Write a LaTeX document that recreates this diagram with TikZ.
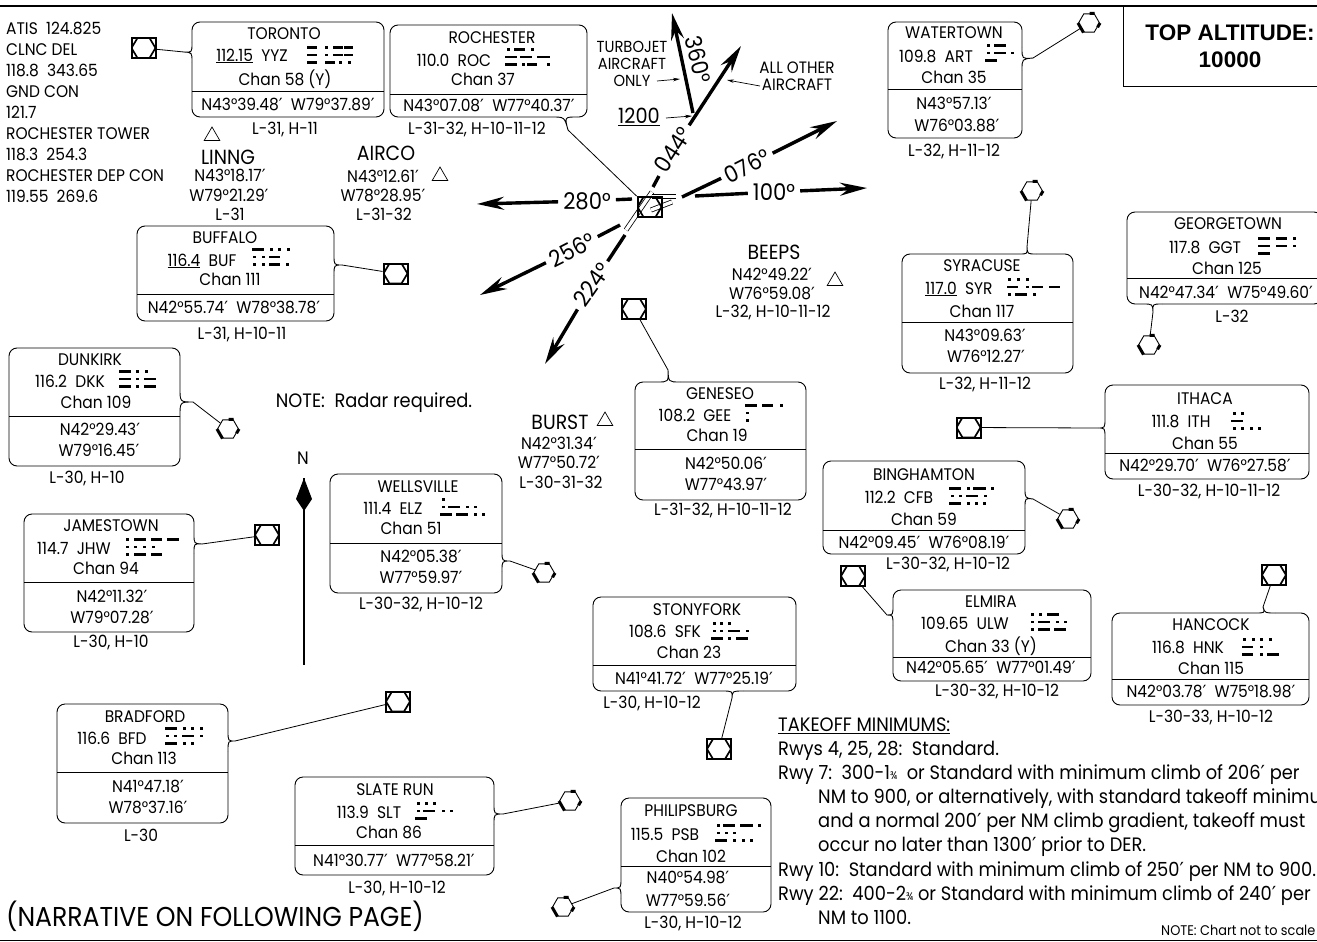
\documentclass[tikz,border=0pt]{standalone}
\usepackage{fontspec}
\setmainfont[FakeStretch=0.92,Numbers=Monospaced]{Poppins}
\newfontfamily\altfont{Liberation Sans}
\newfontfamily\primefont{DejaVu Sans}
\catcode`′=\active
\def′{{\primefont\char"2032 }}
\usetikzlibrary{arrows.meta,calc,shapes.geometric}
\tikzset{
  lbl/.style={inner sep=0pt,font=\fontsize{16.8}{18}\selectfont,align=center},
  biglbl/.style={inner sep=0pt,font=\fontsize{19.4}{24.1}\selectfont,align=left},
  fixlbl/.style={lbl,font=\fontsize{20.5}{20}\selectfont},
  navfr/.style={draw,line width=.9pt,rounded corners=8pt,inner sep=0pt,outer sep=0pt},
  navln/.style={line width=.9pt},
  leader/.style={line width=.8pt},
  morsebar/.style={line width=2.5pt},
  crs/.style={line width=3.4pt},
  crsarrow/.style={crs,-{Stealth[length=27pt,width=13pt,inset=9pt]}},
  crslbl/.style={inner sep=5pt,font=\fontsize{23}{24}\selectfont},
  thinarrow/.style={line width=.7pt,-{Stealth[length=7pt,width=3.5pt]}},
  rwystrip/.style={double=white,double distance=3.4pt,line width=.8pt},
  fixsym/.style={draw,line width=.7pt,regular polygon,regular polygon sides=3,minimum size=18pt,inner sep=0pt},
  vorsym/.style={draw,line width=.9pt,fill=white,regular polygon,regular polygon sides=6,minimum size=21pt,inner sep=0pt},
  dmesym/.style={draw,line width=2pt,minimum width=24pt,minimum height=20pt,inner sep=0pt,
    path picture={\draw[line width=1.7pt] (path picture bounding box.west)
      -- ([xshift=6pt]path picture bounding box.north west) -- ([xshift=-6pt]path picture bounding box.north east)
      -- (path picture bounding box.east) -- ([xshift=-6pt]path picture bounding box.south east)
      -- ([xshift=6pt]path picture bounding box.south west) -- cycle;}},
}
\newcommand{\navbox}[6]{
  \node[navfr,minimum width={#4-#2},minimum height={#5-#3}] (#1) at ({(#2+#4)/2},{(#3+#5)/2}) {};
  \draw[navln] (#1.west |- 0,#6) -- (#1.east |- 0,#6);
}
\newcommand{\navtab}[4]{
  \coordinate (#1tab) at (#2);
  \draw[white,line width=2pt] (#3) -- (#4);
  \draw[navln] (#3) .. controls ($(#3)!.5!(#4)$) .. (#1tab) .. controls ($(#3)!.5!(#4)$) .. (#4);
}
\newcommand{\morse}[3]{\foreach \mx/\mr/\ml in {#3} \draw[morsebar] ({#1+\mx},{#2+\mr*7.5}) -- ++(\ml,0);}
\newcommand{\vormark}[3]{
  \node[vorsym] (#1) at (#2,#3) {};
  \draw[line width=3pt] (#1.corner 3) -- (#1.corner 4);
  \draw[line width=3pt] (#1.corner 1) -- ($(#1.corner 1)!.45!(#1.corner 2)$);
  \draw[line width=3pt] (#1.corner 6) -- ($(#1.corner 6)!.45!(#1.corner 5)$);
}
\begin{document}
\begin{tikzpicture}[x=1pt,y=-1pt]
  \useasboundingbox (0,0) rectangle (1317,942);
  \draw[line width=2pt] (0,6) -- (1317,6);
  \draw[line width=1pt] (0,940) -- (1317,940);
  \draw[line width=.8pt] (1123,6) |- (1317,86);
  \node[inner sep=0pt,align=center,font=\altfont\bfseries\fontsize{22.5}{27}\selectfont] (topalt) at (1230,46) {TOP ALTITUDE:\\10000};

  \node[lbl,anchor=north west,align=left,font=\fontsize{16.8}{21}\selectfont] (freqs) at (6,22) {ATIS\ \ 124.825\\CLNC DEL\\118.8\ \ 343.65\\GND CON\\121.7\\ROCHESTER TOWER\\118.3\ \ 254.3\\ROCHESTER DEP CON\\119.55\ \ 269.6};

  % toronto
  \navbox{tor}{192}{22}{384}{117}{91}
  \navtab{tor}{184,52}{192,43}{192,62}
  \node[dmesym] (torsym) at (143.5,48) {};
  \draw[leader] (torsym) -- (tortab);
  \node[lbl] (tora) at (284,34) {TORONTO};
  \node[lbl] (torb) at (252,56) {\underline{112.15}\ \ YYZ};
  \morse{307}{55}{0/-1/10,18/-1/3,26/-1/10,37/-1/9,0/0/10,18/0/3,26/0/10,37/0/9,0/1/10,18/1/10,32/1/3,41/1/3}
  \node[lbl] (torc) at (285,79) {Chan 58 (Y)};
  \node[lbl] (tord) at (288,104) {N43°39.48′\ \ W79°37.89′};
  \node[lbl] (tore) at (285,130) {L-31, H-11};

  % rochester
  \navbox{roc}{390}{25}{587}{117}{94}
  \navtab{roc}{568,130}{552,117}{577,117}
  \node[lbl] (roca) at (492,38) {ROCHESTER};
  \node[lbl] (rocb) at (454,60) {110.0\ \ ROC};
  \morse{505}{57}{2/-1/3,9/-1/11,26/-1/3,0/0/12,15/0/12,32/0/13,0/1/12,17/1/3,22/1/10,42/1/3}
  \node[lbl] (rocc) at (483,79) {Chan 37};
  \node[lbl] (rocd) at (489,105) {N43°07.08′\ \ W77°40.37′};
  \node[lbl] (roce) at (477,130) {L-31-32, H-10-11-12};

  % watertown
  \navbox{art}{888}{22}{1022}{138}{89}
  \navtab{art}{1033,58}{1022,48}{1022,70}
  \vormark{artsym}{1089}{23}
  \draw[leader] (artsym) -- (arttab);
  \node[lbl] (arta) at (954,33) {WATERTOWN};
  \node[lbl] (artb) at (936,56) {109.8\ \ ART};
  \morse{985}{53}{2/-1/3,9/-1/12,2/0/3,9/0/12,26/0/3,0/1/12}
  \node[lbl] (artc) at (954,77) {Chan 35};
  \node[lbl] (artd) at (954,103) {N43°57.13′};
  \node[lbl] (arte) at (957,125) {W76°03.88′};
  \node[lbl] (artf) at (954,152) {L-32, H-11-12};

  % fixes
  \node[fixsym] (linsym) at (212,136) {};
  \node[fixlbl] (lina) at (228,157) {LINNG};
  \node[lbl] (linb) at (230,175) {N43°18.17′};
  \node[lbl] (linc) at (229,195) {W79°21.29′};
  \node[lbl] (lind) at (230,214) {L-31};
  \node[fixsym] (airsym) at (440,176) {};
  \node[fixlbl] (aira) at (386,153) {AIRCO};
  \node[lbl] (airb) at (383,176) {N43°12.61′};
  \node[lbl] (airc) at (383,195) {W78°28.95′};
  \node[lbl] (aird) at (384,214) {L-31-32};
  \node[fixsym] (beesym) at (835,281) {};
  \node[fixlbl] (beea) at (774,252) {BEEPS};
  \node[lbl] (beeb) at (772,274) {N42°49.22′};
  \node[lbl] (beec) at (772,293) {W76°59.08′};
  \node[lbl] (beed) at (773,313) {L-32, H-10-11-12};
  \node[fixsym] (bursym) at (605,421) {};
  \node[fixlbl] (bura) at (560,422) {BURST};
  \node[lbl] (burb) at (559,443) {N42°31.34′};
  \node[lbl] (burc) at (559,462) {W77°50.72′};
  \node[lbl] (burd) at (561,482) {L-30-31-32};

  % buffalo
  \navbox{buf}{137}{226}{334}{321}{294}
  \navtab{buf}{342,265}{334,255}{334,275}
  \node[dmesym] (bufsym) at (395.5,273.5) {};
  \draw[leader] (bufsym) -- (buftab);
  \node[lbl] (bufa) at (225,238) {BUFFALO};
  \node[lbl] (bufb) at (202,261) {\underline{116.4}\ \ BUF};
  \morse{252}{257}{0/-1/12,18/-1/3,26/-1/3,35/-1/3,1/0/3,10/0/3,17/0/11,1/1/3,10/1/3,17/1/11,34/1/3}
  \node[lbl] (bufc) at (230,279) {Chan 111};
  \node[lbl] (bufd) at (234,307) {N42°55.74′\ \ W78°38.78′};
  \node[lbl] (bufe) at (242,335) {L-31, H-10-11};

  % dunkirk
  \navbox{dkk}{9}{348}{180}{466}{416}
  \navtab{dkk}{193,402}{180,388}{180,416}
  \vormark{dkksym}{228}{429}
  \draw[leader] (dkksym) -- (dkktab);
  \node[lbl] (dkka) at (90,360) {DUNKIRK};
  \node[lbl] (dkkb) at (70,381) {116.2\ \ DKK};
  \morse{119}{379}{0/-1/12,17/-1/3,26/-1/3,0/0/12,17/0/3,25/0/12,0/1/12,17/1/3,25/1/12}
  \node[lbl] (dkkc) at (96,402) {Chan 109};
  \node[lbl] (dkkd) at (100,429) {N42°29.43′};
  \node[lbl] (dkke) at (99,450) {W79°16.45′};
  \node[lbl] (dkkf) at (87,479) {L-30, H-10};

  \node[biglbl] (radar) at (374,403) {NOTE:\ \ Radar required.};

  % north arrow
  \node[lbl,font=\fontsize{18}{18}\selectfont] (north) at (303,458) {N};
  \coordinate (ntop) at (304,478);
  \coordinate (nbot) at (304,665);
  \draw[line width=2pt] (ntop) -- (nbot);
  \fill (ntop) -- (312,499) -- (304,511) -- (296,499) -- cycle;

  % jamestown
  \navbox{jhw}{24}{514}{194}{632}{582}
  \navtab{jhw}{202,544}{194,534}{194,553}
  \node[dmesym] (jhwsym) at (267,535) {};
  \draw[leader] (jhwsym) -- (jhwtab);
  \node[lbl] (jhwa) at (111,526) {JAMESTOWN};
  \node[lbl] (jhwb) at (74,548) {114.7\ \ JHW};
  \morse{126}{547}{0/-1/3,8/-1/12,25/-1/11,41/-1/12,0/0/3,8/0/3,17/0/3,26/0/3,0/1/3,8/1/12,25/1/11}
  \node[lbl] (jhwc) at (106,568) {Chan 94};
  \node[lbl] (jhwd) at (112,596) {N42°11.32′};
  \node[lbl] (jhwe) at (112,617) {W79°07.28′};
  \node[lbl] (jhwf) at (111,643) {L-30, H-10};

  % wellsville
  \navbox{elz}{330}{474}{502}{593}{543}
  \navtab{elz}{510,561}{502,551}{502,571}
  \vormark{elzsym}{544}{573}
  \draw[leader] (elzsym) -- (elztab);
  \node[lbl] (elza) at (418,487) {WELLSVILLE};
  \node[lbl] (elzb) at (393,508) {111.4\ \ ELZ};
  \morse{440}{507}{2/-1/3,2/0/3,8/0/12,26/0/3,34/0/3,0/1/12,16/1/12,34/1/3,42/1/3}
  \node[lbl] (elzc) at (411,528) {Chan 51};
  \node[lbl] (elzd) at (421,556) {N42°05.38′};
  \node[lbl] (elze) at (421,577) {W77°59.97′};
  \node[lbl] (elzf) at (421,605) {L-30-32, H-10-12};

  % bradford
  \navbox{bfd}{57}{704}{228}{823}{772}
  \navtab{bfd}{235,741}{228,731}{228,751}
  \node[dmesym] (bfdsym) at (398,701.5) {};
  \draw[leader] (bfdsym) -- (bfdtab);
  \node[lbl] (bfda) at (145,717) {BRADFORD};
  \node[lbl] (bfdb) at (112,738) {116.6\ \ BFD};
  \morse{165}{736}{0/-1/12,18/-1/3,26/-1/3,35/-1/3,1/0/3,9/0/3,17/0/12,35/0/3,0/1/12,18/1/3,26/1/3}
  \node[lbl] (bfdc) at (144,758) {Chan 113};
  \node[lbl] (bfdd) at (148,786) {N41°47.18′};
  \node[lbl] (bfde) at (148,807) {W78°37.16′};
  \node[lbl] (bfdf) at (141,835) {L-30};

  % slate run
  \navbox{slt}{295}{777}{494}{875}{845}
  \navtab{slt}{503,814}{494,804}{494,824}
  \vormark{sltsym}{570}{801}
  \draw[leader] (sltsym) -- (slttab);
  \node[lbl] (slta) at (395,790) {SLATE RUN};
  \node[lbl] (sltb) at (369,812) {113.9\ \ SLT};
  \morse{415}{811}{2/-1/3,10/-1/3,18/-1/3,2/0/3,8/0/12,27/0/3,35/0/3,0/1/12}
  \node[lbl] (sltc) at (389,832) {Chan 86};
  \node[lbl] (sltd) at (394,860) {N41°30.77′\ \ W77°58.21′};
  \node[lbl] (slte) at (397,888) {L-30, H-10-12};

  \node[lbl,font=\fontsize{27.3}{28}\selectfont] (narr) at (215,916) {(NARRATIVE ON FOLLOWING PAGE)};

  % geneseo
  \navbox{gee}{635}{382}{806}{500}{449}
  \navtab{gee}{668,370}{657,382}{680,382}
  \node[dmesym] (geesym) at (634,309) {};
  \draw[leader] (geesym) -- (geetab);
  \node[lbl] (geea) at (720,394) {GENESEO};
  \node[lbl] (geeb) at (695,415) {108.2\ \ GEE};
  \morse{745}{413}{0/-1/12,17/-1/11,35/-1/3,1/0/3,1/1/3}
  \node[lbl] (geec) at (717,435) {Chan 19};
  \node[lbl] (geed) at (726,463) {N42°50.06′};
  \node[lbl] (geee) at (726,484) {W77°43.97′};
  \node[lbl] (geef) at (723,511) {L-31-32, H-10-11-12};

  % stonyfork
  \navbox{sfk}{593}{597}{796}{691}{665}
  \navtab{sfk}{732,698}{722,691}{743,691}
  \node[dmesym] (sfksym) at (719,749) {};
  \draw[leader] (sfksym) -- (sfktab);
  \node[lbl] (sfka) at (697,610) {STONYFORK};
  \node[lbl] (sfkb) at (665,631) {108.6\ \ SFK};
  \morse{711}{631}{2/-1/3,9/-1/3,17/-1/3,2/0/3,9/0/3,17/0/12,35/0/3,0/1/12,17/1/3,25/1/12}
  \node[lbl] (sfkc) at (689,652) {Chan 23};
  \node[lbl] (sfkd) at (694,678) {N41°41.72′\ \ W77°25.19′};
  \node[lbl] (sfke) at (652,704) {L-30, H-10-12};

  % philipsburg
  \navbox{psb}{621}{798}{771}{912}{866}
  \navtab{psb}{614,888}{621,878}{621,898}
  \vormark{psbsym}{563}{907}
  \draw[leader] (psbsym) -- (psbtab);
  \node[lbl] (psba) at (691,811) {PHILIPSBURG};
  \node[lbl] (psbb) at (665,834) {115.5\ \ PSB};
  \morse{715}{833}{2/-1/3,8/-1/12,25/-1/13,43/-1/3,2/0/3,10/0/3,18/0/3,0/1/12,18/1/3,27/1/3,35/1/3}
  \node[lbl] (psbc) at (691,856) {Chan 102};
  \node[lbl] (psbd) at (688,877) {N40°54.98′};
  \node[lbl] (psbe) at (688,900) {W77°59.56′};
  \node[lbl] (psbf) at (693,923) {L-30, H-10-12};

  % syracuse
  \navbox{syr}{902}{254}{1073}{373}{322}
  \navtab{syr}{1027,247}{1019,254}{1036,254}
  \vormark{syrsym}{1032}{191}
  \draw[leader] (syrsym) -- (syrtab);
  \node[lbl] (syra) at (982,266) {SYRACUSE};
  \node[lbl] (syrb) at (959,289) {\underline{117.0}\ \ SYR};
  \morse{1007}{287}{1/-1/3,10/-1/3,19/-1/3,0/0/11,19/0/3,25/0/11,42/0/11,1/1/3,8/1/12,26/1/3}
  \node[lbl] (syrc) at (982,311) {Chan 117};
  \node[lbl] (syrd) at (985,335) {N43°09.63′};
  \node[lbl] (syre) at (986,356) {W76°12.27′};
  \node[lbl] (syrf) at (985,385) {L-32, H-11-12};

  % georgetown
  \navbox{ggt}{1127}{212}{1322}{304}{278}
  \navtab{ggt}{1153,312}{1143,304}{1162,304}
  \vormark{ggtsym}{1149}{345}
  \draw[leader] (ggtsym) -- (ggttab);
  \node[lbl] (ggta) at (1228,224) {GEORGETOWN};
  \node[lbl] (ggtb) at (1205,247) {117.8\ \ GGT};
  \morse{1258}{246}{0/-1/12,18/-1/11,35/-1/3,0/0/12,18/0/11,35/0/3,0/1/12}
  \node[lbl] (ggtc) at (1227,268) {Chan 125};
  \node[lbl] (ggtd) at (1226,292) {N42°47.34′\ \ W75°49.60′};
  \node[lbl] (ggte) at (1232,316) {L-32};

  % ithaca
  \navbox{ith}{1105}{385}{1309}{479}{453}
  \navtab{ith}{1098,428}{1105,418}{1105,438}
  \node[dmesym] (ithsym) at (968.5,427.5) {};
  \draw[leader] (ithsym) -- (ithtab);
  \node[lbl] (itha) at (1205,399) {ITHACA};
  \node[lbl] (ithb) at (1181,421) {111.8\ \ ITH};
  \morse{1231}{421}{2/-1/3,10/-1/3,0/0/12,2/1/3,10/1/3,19/1/3,27/1/3}
  \node[lbl] (ithc) at (1205,443) {Chan 55};
  \node[lbl] (ithd) at (1205,465) {N42°29.70′\ \ W76°27.58′};
  \node[lbl] (ithe) at (1209,492) {L-30-32, H-10-11-12};

  % binghamton
  \navbox{cfb}{823}{461}{1025}{554}{530}
  \navtab{cfb}{1033,499}{1025,488}{1025,508}
  \vormark{cfbsym}{1068}{519}
  \draw[leader] (cfbsym) -- (cfbtab);
  \node[lbl] (cfba) at (924,475) {BINGHAMTON};
  \node[lbl] (cfbb) at (899,497) {112.2\ \ CFB};
  \morse{949}{496}{0/-1/12,18/-1/3,24/-1/13,42/-1/3,2/0/3,10/0/3,17/0/12,35/0/3,0/1/12,18/1/3,26/1/3,34/1/3}
  \node[lbl] (cfbc) at (924,519) {Chan 59};
  \node[lbl] (cfbd) at (924,542) {N42°09.45′\ \ W76°08.19′};
  \node[lbl] (cfbe) at (948,565) {L-30-32, H-10-12};

  % elmira
  \navbox{ulw}{893}{590}{1091}{681}{657}
  \navtab{ulw}{887,615}{893,605}{893,625}
  \node[dmesym] (ulwsym) at (853,576) {};
  \draw[leader] (ulwsym) -- (ulwtab);
  \node[lbl] (ulwa) at (991,602) {ELMIRA};
  \node[lbl] (ulwb) at (965,623) {109.65\ \ ULW};
  \morse{1030}{622}{1/-1/3,9/-1/3,17/-1/12,1/0/3,8/0/12,26/0/3,34/0/3,1/1/3,8/1/12,24/1/12}
  \node[lbl] (ulwc) at (991,646) {Chan 33 (Y)};
  \node[lbl] (ulwd) at (991,667) {N42°05.65′\ \ W77°01.49′};
  \node[lbl] (ulwe) at (997,692) {L-30-32, H-10-12};

  % hancock
  \navbox{hnk}{1112}{613}{1309}{705}{679}
  \navtab{hnk}{1263,607}{1255,613}{1275,613}
  \node[dmesym] (hnksym) at (1274,575) {};
  \draw[leader] (hnksym) -- (hnktab);
  \node[lbl] (hnka) at (1211,625) {HANCOCK};
  \node[lbl] (hnkb) at (1188,647) {116.8\ \ HNK};
  \morse{1242}{647}{1/-1/3,10/-1/3,18/-1/3,27/-1/3,0/0/11,18/0/3,0/1/11,18/1/3,25/1/12}
  \node[lbl] (hnkc) at (1211,668) {Chan 115};
  \node[lbl] (hnkd) at (1211,691) {N42°03.78′\ \ W75°18.98′};
  \node[lbl] (hnke) at (1211,718) {L-30-33, H-10-12};

  % airport
  \draw[rwystrip] (626,230) -- (652,192);
  \draw[rwystrip] (652,196.5) -- (676,196.5);
  \draw[rwystrip] (651,210) -- (672,202);
  \node[dmesym] (apt) at (649.5,207) {};
  \draw[leader] (roctab) -- (apt.north west);

  % courses
  \node[crslbl] (lbl280) at (587,201) {280°};
  \node[crslbl] (lbl100) at (774,192) {100°};
  \node[crslbl,rotate=27] (lbl076) at (747,166) {076°};
  \node[crslbl,rotate=57] (lbl044) at (673,150) {044°};
  \node[crslbl,rotate=-76] (lbl360) at (698,60) {360°};
  \node[crslbl,rotate=27] (lbl256) at (572,250) {256°};
  \node[crslbl,rotate=55] (lbl224) at (592,285) {224°};
  \coordinate (tip280) at (477,204);
  \coordinate (tip100) at (867,188);
  \coordinate (tip076) at (837,121);
  \coordinate (tip044) at (741,46);
  \coordinate (tip360) at (672,13);
  \coordinate (tip256) at (480,295);
  \coordinate (tip224) at (545,364);
  \coordinate (bend) at (693,113);
  \coordinate (st280) at (632,199);
  \coordinate (st100) at (695,196);
  \coordinate (st076) at (682,197);
  \coordinate (st044) at (653,187);
  \coordinate (st256) at (620,225);
  \coordinate (st224) at (625,235);
  \foreach \c in {280,100,076,044,256,224} {
    \draw[crs] (st\c) -- (lbl\c);
    \draw[crsarrow] (lbl\c) -- (tip\c);
  }
  \draw[crsarrow] (bend) -- (tip360);

  % arrow notes
  \node[lbl,font=\fontsize{16}{17}\selectfont] (turbo) at (632,64) {TURBOJET\\AIRCRAFT\\ONLY};
  \coordinate (turbostart) at (657,81);
  \coordinate (turboend) at (680,79);
  \draw[thinarrow] (turbostart) -- (turboend);
  \node[lbl,font=\fontsize{16.5}{17}\selectfont] (other) at (797,76) {ALL OTHER\\AIRCRAFT};
  \coordinate (otherstart) at (760,86);
  \coordinate (otherend) at (727,80);
  \draw[thinarrow] (otherstart) -- (otherend);
  \node[lbl,font=\fontsize{21}{18}\selectfont] (alt) at (639,117) {\underline{1200}};
  \coordinate (altstart) at (666,118);
  \coordinate (altend) at (692,116);
  \draw[thinarrow] (altstart) -- (altend);

  % takeoff
  \node[biglbl,anchor=north west] (tkoff) at (778,717.5) {\underline{TAKEOFF MINIMUMS:}\\Rwys 4, 25, 28:\ \ Standard.\\Rwy 7:\ \ 300-1{\fontsize{11}{11}\selectfont ¾}\ \ or Standard with minimum climb of 206′ per\\\hspace*{40pt}NM to 900, or alternatively, with standard takeoff minimums\\\hspace*{40pt}and a normal 200′ per NM climb gradient, takeoff must\\\hspace*{40pt}occur no later than 1300′ prior to DER.\\Rwy 10:\ \ Standard with minimum climb of 250′ per NM to 900.\\Rwy 22:\ \ 400-2{\fontsize{11}{11}\selectfont ¾}\ or Standard with minimum climb of 240′ per\\\hspace*{40pt}NM to 1100.};
  \node[lbl,anchor=west,font=\fontsize{14}{14}\selectfont] (scale) at (1161,930) {NOTE: Chart not to scale};
\end{tikzpicture}
\end{document}
